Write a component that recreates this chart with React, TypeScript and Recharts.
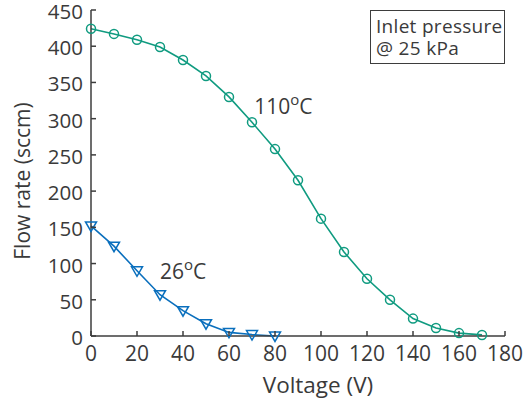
import React from 'react';
import { LineChart, Line, XAxis, YAxis, ReferenceDot } from 'recharts';

const voltage110 = [0, 10, 20, 30, 40, 50, 60, 70, 80, 90, 100, 110, 120, 130, 140, 150, 160, 170];
const flow110 = [424, 417, 409, 399, 381, 359, 330, 295, 258, 215, 162, 116, 79, 50, 24, 11, 4, 1.5];
const voltage26 = [0, 10, 20, 30, 40, 50, 60, 70, 80];
const flow26 = [152, 124, 90, 57, 35, 17, 5, 2, 0];
const xTicks = [0, 20, 40, 60, 80, 100, 120, 140, 160, 180];
const yTicks = [0, 50, 100, 150, 200, 250, 300, 350, 400, 450];

const data = voltage110.map((v, i) => {
  const j = voltage26.indexOf(v);
  return { v, t110: flow110[i], t26: j >= 0 ? flow26[j] : null };
});

const TEAL = '#109b80';
const BLUE = '#0a6fbd';
const AXIS = '#3d3d3d';
const TXT = '#3a3a3a';
const FONT = '"Open Sans", sans-serif';

const BottomTick = (props: any) => {
  const { x, y, payload } = props;
  return (
    <g>
      <line x1={x} y1={y} x2={x} y2={y - 5} stroke={AXIS} strokeWidth={1.5} />
      <text x={x} y={y + 25} textAnchor="middle" fill={TXT} fontSize={21} fontFamily={FONT}>
        {payload.value}
      </text>
    </g>
  );
};
const LeftTick = (props: any) => {
  const { x, y, payload } = props;
  return (
    <g>
      <line x1={x} y1={y} x2={x + 5} y2={y} stroke={AXIS} strokeWidth={1.5} />
      <text x={x - 8} y={y + 9} textAnchor="end" fill={TXT} fontSize={20.5} fontFamily={FONT}>
        {payload.value}
      </text>
    </g>
  );
};
const TopTick = (props: any) => {
  const { x, y } = props;
  return <line x1={x} y1={y} x2={x} y2={y + 5} stroke={AXIS} strokeWidth={1.5} />;
};
const RightTick = (props: any) => {
  const { x, y } = props;
  return <line x1={x} y1={y} x2={x - 5} y2={y} stroke={AXIS} strokeWidth={1.5} />;
};

const CircleDot = (props: any) => {
  const { cx, cy, index } = props;
  if (cx == null || cy == null) return <g key={index} />;
  return <circle key={index} cx={cx} cy={cy} r={4.5} fill="none" stroke={TEAL} strokeWidth={1.5} />;
};
const TriDot = (props: any) => {
  const { cx, cy, index } = props;
  if (cx == null || cy == null) return <g key={index} />;
  const pts = `${cx - 5.5},${cy - 4} ${cx + 5.5},${cy - 4} ${cx},${cy + 5.5}`;
  return <polygon key={index} points={pts} fill="none" stroke={BLUE} strokeWidth={1.5} />;
};

const tempLabel = (num: string) => (props: any) => {
  const { viewBox } = props;
  const x = viewBox.x;
  const y = viewBox.y;
  return (
    <text x={x} y={y} fill={TXT} fontSize={21} fontFamily={FONT}>
      <tspan>{num}</tspan>
      <tspan dy={-9} fontSize={15}>o</tspan>
      <tspan dy={9}>C</tspan>
    </text>
  );
};

const YLabel = (props: any) => {
  const { viewBox } = props;
  const cx = viewBox.x + 22;
  const cy = viewBox.y + viewBox.height / 2 + 8;
  return (
    <text
      x={cx}
      y={cy}
      transform={`rotate(-90, ${cx}, ${cy})`}
      textAnchor="middle"
      dominantBaseline="central"
      fill={TXT}
      fontSize={21}
      fontFamily={FONT}
    >
      Flow rate (sccm)
    </text>
  );
};
const XLabel = (props: any) => {
  const { viewBox } = props;
  const cx = viewBox.x + viewBox.width / 2 + 20;
  const cy = viewBox.y + 57;
  return (
    <text x={cx} y={cy} textAnchor="middle" fill={TXT} fontSize={22.5} fontFamily={FONT}>
      Voltage (V)
    </text>
  );
};

export default function App() {
  return (
    <div style={{ position: 'absolute', left: 0, top: 0, width: 523, height: 405, background: '#fff' }}>
      <LineChart width={523} height={405} data={data} margin={{ top: 10, right: 18, bottom: 9, left: 0 }}>
        <XAxis
          xAxisId="bottom"
          dataKey="v"
          type="number"
          domain={[0, 180]}
          ticks={xTicks}
          height={60}
          tickSize={0}
          tickMargin={0}
          tickLine={false}
          axisLine={{ stroke: AXIS, strokeWidth: 1.5 }}
          tick={<BottomTick />}
          interval={0}
          label={<XLabel />}
        />
        <XAxis
          xAxisId="top"
          orientation="top"
          dataKey="v"
          type="number"
          domain={[0, 180]}
          ticks={xTicks}
          height={0}
          tickSize={0}
          tickMargin={0}
          tickLine={false}
          axisLine={{ stroke: AXIS, strokeWidth: 1.5 }}
          tick={<TopTick />}
          interval={0}
        />
        <YAxis
          yAxisId="left"
          type="number"
          domain={[0, 450]}
          ticks={yTicks}
          width={91}
          tickSize={0}
          tickMargin={0}
          tickLine={false}
          axisLine={{ stroke: AXIS, strokeWidth: 1.5 }}
          tick={<LeftTick />}
          interval={0}
          label={<YLabel />}
        />
        <YAxis
          yAxisId="right"
          orientation="right"
          type="number"
          domain={[0, 450]}
          ticks={yTicks}
          width={0}
          tickSize={0}
          tickMargin={0}
          tickLine={false}
          axisLine={{ stroke: AXIS, strokeWidth: 1.5 }}
          tick={<RightTick />}
          interval={0}
        />
        <Line
          xAxisId="top"
          yAxisId="right"
          dataKey="t110"
          stroke="none"
          dot={false}
          activeDot={false}
          legendType="none"
          isAnimationActive={false}
        />
        <Line
          xAxisId="bottom"
          yAxisId="left"
          dataKey="t110"
          type="linear"
          stroke={TEAL}
          strokeWidth={1.6}
          dot={<CircleDot />}
          activeDot={false}
          isAnimationActive={false}
        />
        <Line
          xAxisId="bottom"
          yAxisId="left"
          dataKey="t26"
          type="linear"
          stroke={BLUE}
          strokeWidth={1.6}
          dot={<TriDot />}
          activeDot={false}
          isAnimationActive={false}
        />
        <ReferenceDot xAxisId="bottom" yAxisId="left" x={71} y={307} r={0} stroke="none" fill="none" label={tempLabel('110')} />
        <ReferenceDot xAxisId="bottom" yAxisId="left" x={30} y={79} r={0} stroke="none" fill="none" label={tempLabel('26')} />
      </LineChart>
      <div
        style={{
          position: 'absolute',
          left: 370,
          top: 10,
          width: 135,
          height: 54,
          boxSizing: 'border-box',
          border: `1.5px solid ${AXIS}`,
          background: '#fff',
          fontFamily: FONT,
          fontSize: 19,
          color: TXT,
          lineHeight: '22px',
          padding: '4px 0 0 5px',
          letterSpacing: '0.3px',
          overflow: 'hidden',
          whiteSpace: 'nowrap',
        }}
      >
        <div style={{ height: 22 }}>Inlet pressure</div>
        <div style={{ height: 22 }}>@ 25 kPa</div>
      </div>
    </div>
  );
}
